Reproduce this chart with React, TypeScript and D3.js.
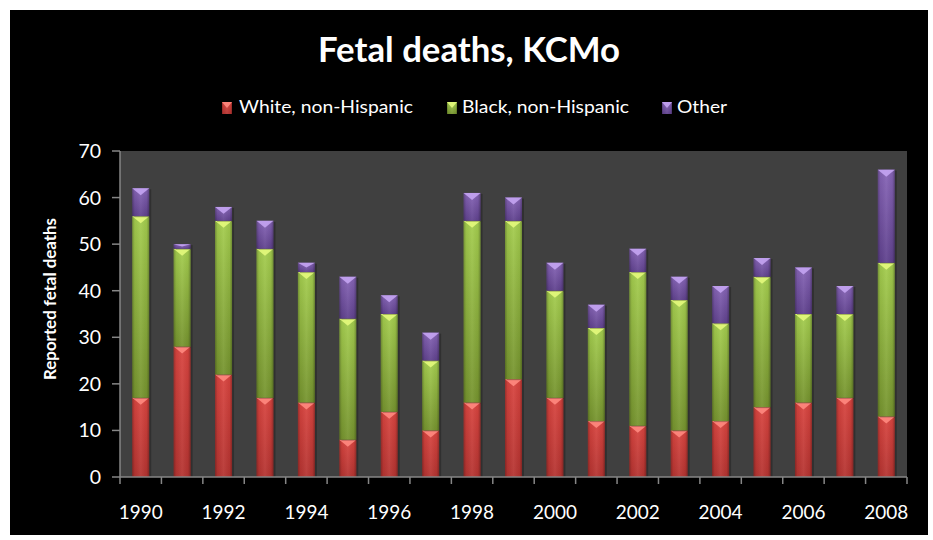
import React from "react";
import * as d3 from "d3";

const years = [
  "1990", "1991", "1992", "1993", "1994", "1995", "1996", "1997", "1998", "1999",
  "2000", "2001", "2002", "2003", "2004", "2005", "2006", "2007", "2008",
];
const whiteNonHispanic = [17, 28, 22, 17, 16, 8, 14, 10, 16, 21, 17, 12, 11, 10, 12, 15, 16, 17, 13];
const blackNonHispanic = [39, 21, 33, 32, 28, 26, 21, 15, 39, 34, 23, 20, 33, 28, 21, 28, 19, 18, 33];
const other = [6, 1, 3, 6, 2, 9, 4, 6, 6, 5, 6, 5, 5, 5, 8, 4, 10, 6, 20];
const yTicks = [0, 10, 20, 30, 40, 50, 60, 70];

const seriesNames = ["White, non-Hispanic", "Black, non-Hispanic", "Other"];
const seriesKeys = ["white", "black", "other"];

const palette: Record<string, { top: string; bottom: string; tip: string }> = {
  white: { top: "#d8443f", bottom: "#b53431", tip: "#ff8a80" },
  black: { top: "#a4cd4e", bottom: "#76942f", tip: "#e4fa7c" },
  other: { top: "#8664b6", bottom: "#60428e", tip: "#c4a4f2" },
};

const W = 933;
const H = 540;
const plot = { left: 120, right: 907, top: 151, bottom: 477 };
const FONT = "Lato, 'Open Sans', sans-serif";

export default function App() {
  const rows = years.map((y, i) => ({
    year: y,
    white: whiteNonHispanic[i],
    black: blackNonHispanic[i],
    other: other[i],
  }));
  const stacked = d3.stack<any>().keys(seriesKeys)(rows);

  const x = d3
    .scaleBand<string>()
    .domain(years)
    .range([plot.left, plot.right])
    .paddingInner(0.59)
    .paddingOuter(0.295);
  const y = d3.scaleLinear().domain([0, 70]).range([plot.bottom, plot.top]);
  const bw = x.bandwidth();
  const step = x.step();

  const legendItems = [
    { key: "white", sx: 222, tx: 239, tl: 174 },
    { key: "black", sx: 447, tx: 462, tl: 167 },
    { key: "other", sx: 662, tx: 677, tl: 50 },
  ];

  const segment = (key: string, x0: number, y0: number, w: number, h: number, id: string) => {
    const c = palette[key];
    const tipH = Math.min(7, h * 0.5);
    return (
      <g key={id}>
        <rect x={x0 + 2} y={y0 + 1} width={w} height={h} fill="#000" opacity={0.25} />
        <rect x={x0} y={y0} width={w} height={h} fill={`url(#vg-${key})`} />
        <rect x={x0} y={y0} width={w} height={h} fill="url(#hshade)" />
        <path
          d={`M${x0},${y0} L${x0 + w},${y0} L${x0 + w / 2},${y0 + tipH} Z`}
          fill={c.tip}
          opacity={0.9}
        />
      </g>
    );
  };

  return (
    <svg width={W} height={H} style={{ position: "absolute", left: 0, top: 0 }}>
      <defs>
        {seriesKeys.map((k) => (
          <linearGradient key={k} id={`vg-${k}`} x1="0" y1="0" x2="0" y2="1">
            <stop offset="0" stopColor={palette[k].top} />
            <stop offset="1" stopColor={palette[k].bottom} />
          </linearGradient>
        ))}
        <linearGradient id="hshade" x1="0" y1="0" x2="1" y2="0">
          <stop offset="0" stopColor="#000" stopOpacity={0.28} />
          <stop offset="0.15" stopColor="#000" stopOpacity={0.05} />
          <stop offset="0.5" stopColor="#fff" stopOpacity={0.06} />
          <stop offset="0.85" stopColor="#000" stopOpacity={0.05} />
          <stop offset="1" stopColor="#000" stopOpacity={0.3} />
        </linearGradient>
      </defs>

      <rect x={0} y={0} width={W} height={H} fill="#fff" />
      <rect x={10} y={10} width={918} height={525} fill="#000" />

      <text
        x={469}
        y={62}
        fill="#fff"
        fontFamily={FONT}
        fontWeight={700}
        fontSize={34}
        textAnchor="middle"
        textLength={302}
        lengthAdjust="spacingAndGlyphs"
      >
        Fetal deaths, KCMo
      </text>

      {legendItems.map((it, i) => (
        <g key={it.key}>
          {segment(it.key, it.sx, 102, 10, 12, `lg-${it.key}`)}
          <text
            x={it.tx}
            y={113}
            fill="#fff"
            fontFamily={FONT}
            fontSize={18}
            textLength={it.tl}
            lengthAdjust="spacingAndGlyphs"
          >
            {seriesNames[i]}
          </text>
        </g>
      ))}

      <rect
        x={plot.left}
        y={plot.top}
        width={plot.right - plot.left}
        height={plot.bottom - plot.top}
        fill="#404040"
      />

      {stacked.map((layer) =>
        layer.map((d, i) => {
          const x0 = x(years[i]) as number;
          const yTop = y(d[1]);
          const yBot = y(d[0]);
          return segment(layer.key, x0, yTop, bw, yBot - yTop, `${layer.key}-${i}`);
        })
      )}

      {/* axes */}
      <line x1={plot.left} x2={plot.left} y1={plot.top} y2={plot.bottom} stroke="#868686" strokeWidth={1.5} />
      <line x1={plot.left} x2={plot.right} y1={plot.bottom} y2={plot.bottom} stroke="#868686" strokeWidth={1.5} />
      {yTicks.map((t) => (
        <g key={t}>
          <line x1={plot.left - 8} x2={plot.left} y1={y(t)} y2={y(t)} stroke="#868686" strokeWidth={1.5} />
          <text
            x={101}
            y={y(t)}
            dy="0.36em"
            fill="#fff"
            fontFamily={FONT}
            fontSize={19.5}
            textAnchor="end"
          >
            {t}
          </text>
        </g>
      ))}
      {d3.range(years.length + 1).map((i) => {
        const bx = plot.left + i * step;
        return (
          <line key={i} x1={bx} x2={bx} y1={plot.bottom} y2={plot.bottom + 7} stroke="#868686" strokeWidth={1.5} />
        );
      })}
      {years.map((yr, i) =>
        i % 2 === 0 ? (
          <text
            key={yr}
            x={(x(yr) as number) + bw / 2}
            y={519}
            fill="#fff"
            fontFamily={FONT}
            fontSize={19.5}
            textAnchor="middle"
            textLength={44}
            lengthAdjust="spacingAndGlyphs"
          >
            {yr}
          </text>
        ) : null
      )}

      <text
        transform={`translate(56,299) rotate(-90)`}
        fill="#fff"
        fontFamily={FONT}
        fontWeight={700}
        fontSize={17.5}
        textAnchor="middle"
        textLength={162}
        lengthAdjust="spacingAndGlyphs"
      >
        Reported fetal deaths
      </text>
    </svg>
  );
}
